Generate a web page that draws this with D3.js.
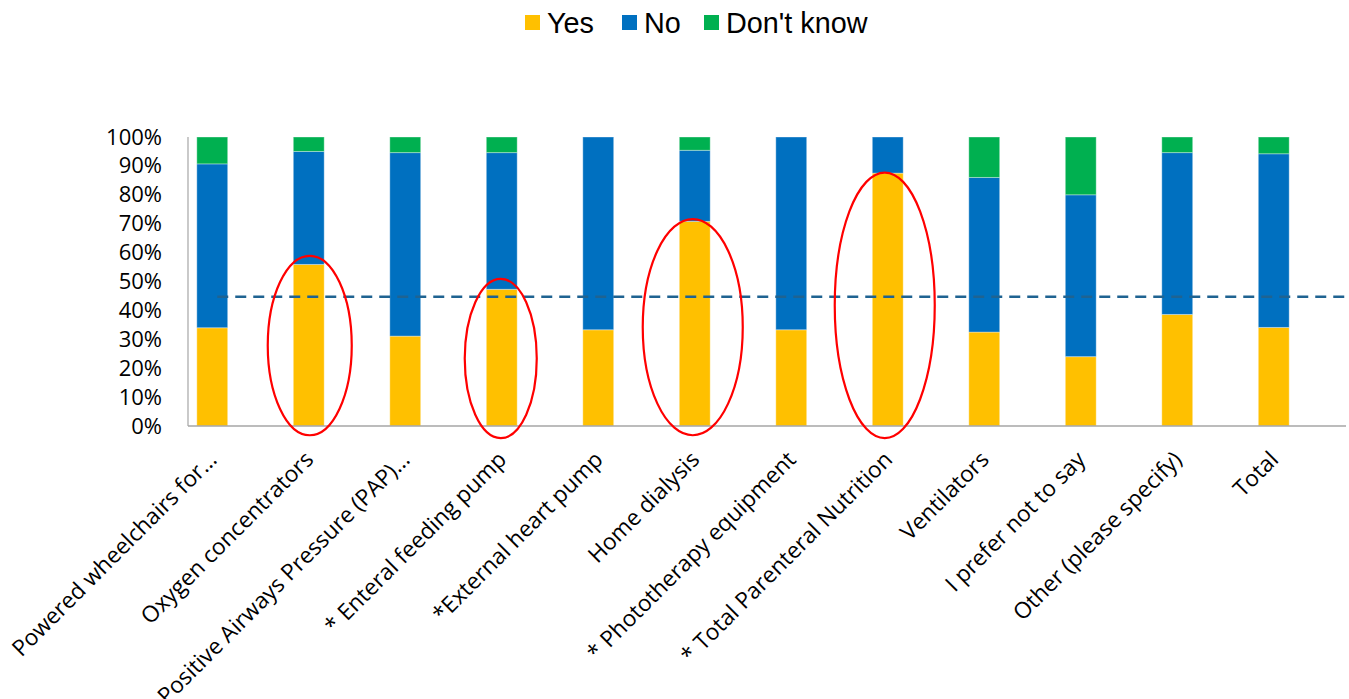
<!DOCTYPE html>
<html>
<head>
<meta charset="utf-8">
<script src="https://cdn.jsdelivr.net/npm/d3@7/dist/d3.min.js"></script>
<style>
  html, body { margin: 0; padding: 0; background: #ffffff; }
  svg { display: block; }
</style>
</head>
<body>
<svg id="chart" width="1349" height="699"></svg>
<script>
// Equipment categories along the x axis
const categories = [
  "Powered wheelchairs for…",
  "Oxygen concentrators",
  "Positive Airways Pressure (PAP)…",
  "* Enteral feeding pump",
  "*External heart pump",
  "Home dialysis",
  "* Phototherapy equipment",
  "* Total Parenteral Nutrition",
  "Ventilators",
  "I prefer not to say",
  "Other (please specify)",
  "Total"
];

// Share of answers per category (percent)
const yesValues      = [34.0, 55.9, 31.1, 47.3, 33.3, 70.8, 33.3, 87.5, 32.5, 24.0, 38.6, 34.1];
const noValues       = [56.7, 39.1, 63.5, 47.3, 66.7, 24.6, 66.7, 12.5, 53.5, 56.0, 56.0, 60.1];
const dontKnowValues = [ 9.3,  5.0,  5.4,  5.4,  0.0,  4.6,  0.0,  0.0, 14.0, 20.0,  5.4,  5.8];

const seriesNames = ["Yes", "No", "Don't know"];
const yTicks = [0, 10, 20, 30, 40, 50, 60, 70, 80, 90, 100];

// Reference level drawn as a dashed line (percent)
const referenceLevel = 44.7;

// Categories circled in red
const circledCategories = [
  "Oxygen concentrators",
  "* Enteral feeding pump",
  "Home dialysis",
  "* Total Parenteral Nutrition"
];

// ---- layout ----
const colors = { "Yes": "#FFC000", "No": "#0070C0", "Don't know": "#00B050" };
const plotLeft = 188, plotRight = 1346, plotTop = 137, plotBottom = 426;

const svg = d3.select("#chart");

const rows = categories.map((c, i) => ({
  category: c,
  "Yes": yesValues[i],
  "No": noValues[i],
  "Don't know": dontKnowValues[i]
}));

const stacked = d3.stack().keys(seriesNames)(rows);

const x = d3.scaleBand()
  .domain(categories)
  .range([plotLeft - 24, plotRight - 24])
  .paddingInner(0.68)
  .paddingOuter(0.34);

const y = d3.scaleLinear().domain([0, 100]).range([plotBottom, plotTop]);

// y axis labels
const yAxis = d3.axisLeft(y)
  .tickValues(yTicks)
  .tickFormat(d => d + "%")
  .tickSize(0)
  .tickPadding(26);

const yG = svg.append("g")
  .attr("transform", `translate(${plotLeft},0)`)
  .call(yAxis);
yG.select(".domain").remove();
yG.selectAll("text")
  .attr("font-family", "'Open Sans', sans-serif")
  .attr("font-size", 22)
  .attr("fill", "#000");

// stacked bars
svg.append("g")
  .selectAll("g")
  .data(stacked)
  .join("g")
  .attr("fill", d => colors[d.key])
  .selectAll("rect")
  .data(d => d)
  .join("rect")
  .attr("x", d => x(d.data.category))
  .attr("width", x.bandwidth())
  .attr("y", d => y(d[1]))
  .attr("height", d => y(d[0]) - y(d[1]))
  .attr("stroke", "rgba(255,255,255,0.35)")
  .attr("stroke-width", 1);

// axis lines
svg.append("line")
  .attr("x1", plotLeft).attr("x2", plotLeft)
  .attr("y1", y(100)).attr("y2", y(0))
  .attr("stroke", "#a6a6a6").attr("stroke-width", 1.2);
svg.append("line")
  .attr("x1", plotLeft).attr("x2", plotRight)
  .attr("y1", y(0)).attr("y2", y(0))
  .attr("stroke", "#a6a6a6").attr("stroke-width", 1.5);

// dashed reference line
svg.append("line")
  .attr("x1", x(categories[0]) + x.bandwidth() / 2 + 5)
  .attr("x2", plotRight)
  .attr("y1", y(referenceLevel))
  .attr("y2", y(referenceLevel))
  .attr("stroke", "#1f6391")
  .attr("stroke-width", 2.6)
  .attr("stroke-dasharray", "11 7");

// x category labels, rotated
const xAxis = d3.axisBottom(x).tickSize(0).tickPadding(0);
const xG = svg.append("g")
  .attr("transform", `translate(0,${plotBottom})`)
  .call(xAxis);
xG.select(".domain").remove();
xG.selectAll("text")
  .attr("font-family", "'Open Sans', sans-serif")
  .attr("font-size", 22.6)
  .attr("fill", "#000")
  .attr("text-anchor", "end")
  .attr("dy", null)
  .attr("y", 0)
  .attr("transform", "translate(6,35) rotate(-45)");

// red ellipses around highlighted bars
const ellipseSize = {
  "Oxygen concentrators":          { pad: 3.0, bottom: -3.2, rx: 42 },
  "* Enteral feeding pump":        { pad: 3.6, bottom: -4.2, rx: 36 },
  "Home dialysis":                 { pad: 0.8, bottom: -3.2, rx: 50 },
  "* Total Parenteral Nutrition":  { pad: 0.2, bottom: -4.2, rx: 50 }
};
const ellipseShift = {
  "Oxygen concentrators": 1,
  "* Enteral feeding pump": -1,
  "Home dialysis": -2,
  "* Total Parenteral Nutrition": -3
};
svg.append("g")
  .selectAll("ellipse")
  .data(circledCategories)
  .join("ellipse")
  .attr("cx", c => x(c) + x.bandwidth() / 2 + ellipseShift[c])
  .attr("cy", c => {
    const i = categories.indexOf(c);
    const s = ellipseSize[c];
    return (y(yesValues[i] + s.pad) + y(s.bottom)) / 2;
  })
  .attr("rx", c => ellipseSize[c].rx)
  .attr("ry", c => {
    const i = categories.indexOf(c);
    const s = ellipseSize[c];
    return (y(s.bottom) - y(yesValues[i] + s.pad)) / 2;
  })
  .attr("fill", "none")
  .attr("stroke", "#ff0000")
  .attr("stroke-width", 2.2);

// legend
const legendX = [525, 622, 704];
const legend = svg.append("g")
  .selectAll("g")
  .data(seriesNames)
  .join("g")
  .attr("transform", (d, i) => `translate(${legendX[i]},15)`);
legend.append("rect")
  .attr("width", 15).attr("height", 15)
  .attr("fill", d => colors[d]);
legend.append("text")
  .attr("x", 22)
  .attr("y", 18)
  .attr("font-family", "'Liberation Sans', Arial, sans-serif")
  .attr("font-size", 28.8)
  .attr("fill", "#000")
  .text(d => d);
</script>
</body>
</html>
